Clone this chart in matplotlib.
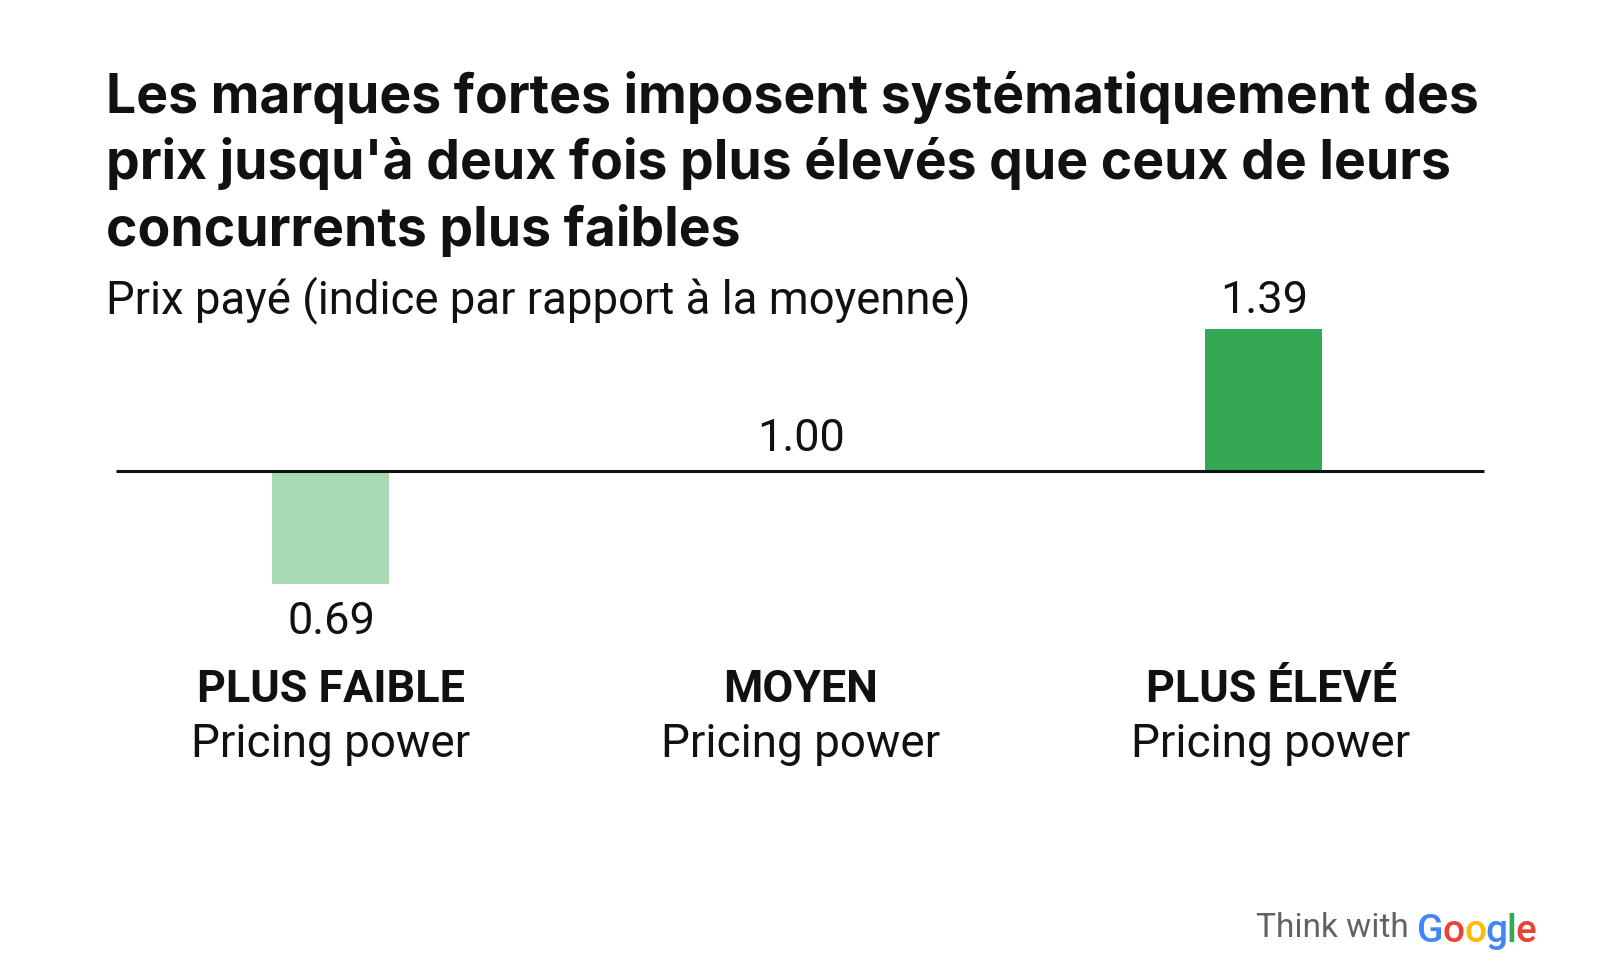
import matplotlib
matplotlib.use('Agg')
import matplotlib.pyplot as plt

# ---------- DATA ----------
categories = ["PLUS FAIBLE", "MOYEN", "PLUS ÉLEVÉ"]
sublabels = ["Pricing power", "Pricing power", "Pricing power"]
values = [0.69, 1.00, 1.39]
value_labels = ["0.69", "1.00", "1.39"]
bar_colors = ["#a8dab5", "#34a853", "#34a853"]
title_lines = [
    "Les marques fortes imposent systématiquement des",
    "prix jusqu'à deux fois plus élevés que ceux de leurs",
    "concurrents plus faibles",
]
subtitle = "Prix payé (indice par rapport à la moyenne)"
google_letters = ["G", "o", "o", "g", "l", "e"]
google_colors = ["#4285f4", "#ea4335", "#fbbc04", "#4285f4", "#34a853", "#ea4335"]

W, H = 1601, 965
plt.rcParams['font.family'] = ['Roboto', 'DejaVu Sans']

fig = plt.figure(figsize=(W / 100, H / 100), dpi=100)

# axes fill the figure, x in category units, y in index values
ax = fig.add_axes([0, 0, 1, 1])
ppu = 365
base_px = 471
ax.set_ylim(1 - (H - base_px) / ppu, 1 + base_px / ppu)
left_px, step_px = 330.5, 466.5
ax.set_xlim(-left_px / step_px, (W - left_px) / step_px)
ax.axis('off')


def fx(px):
    return px / W


def fy(px):
    return 1 - px / H


# ---------- BARS ----------
bar_x = [0, 1, 2]
ax.bar(bar_x, [v - 1 for v in values], width=117 / step_px, bottom=1,
       color=bar_colors, linewidth=0)
ax.plot([(116 - left_px) / step_px, (1484 - left_px) / step_px], [1, 1],
        color="#111111", lw=2.2, solid_capstyle='butt')

# ---------- TEXT ----------
for i, line in enumerate(title_lines):
    fig.text(fx(106), fy(97.5 + i * 66.5), line, fontsize=38.5, fontweight='bold',
             family=['Inter', 'Roboto'], color="#111111", va='center', ha='left')
fig.text(fx(106), fy(300), subtitle, fontsize=32.8, color="#111111", va='center', ha='left')

label_px = [331, 801, 1271]
value_y = [622, 439, 301]
value_px = [331, 801, 1264]
for i in range(3):
    fig.text(fx(value_px[i]), fy(value_y[i]), value_labels[i], fontsize=32.5,
             color="#111111", ha='center', va='center')
    fig.text(fx(label_px[i]), fy(690), categories[i], fontsize=32.3, fontweight='bold',
             color="#111111", ha='center', va='center')
    fig.text(fx(label_px[i]), fy(744), sublabels[i], fontsize=33,
             color="#111111", ha='center', va='center')

# ---------- LOGO ----------
fig.text(fx(1255.5), fy(928), "Think with", fontsize=24, color="#5f6368", ha='left', va='center')
renderer = fig.canvas.get_renderer()
x_px = 1417
for letter, color in zip(google_letters, google_colors):
    t = fig.text(fx(x_px), fy(927), letter, fontsize=28, fontweight='medium', color=color,
                 ha='left', va='center_baseline')
    x_px += t.get_window_extent(renderer).width - 0.8

fig.savefig("out.png", dpi=100, facecolor='white')
